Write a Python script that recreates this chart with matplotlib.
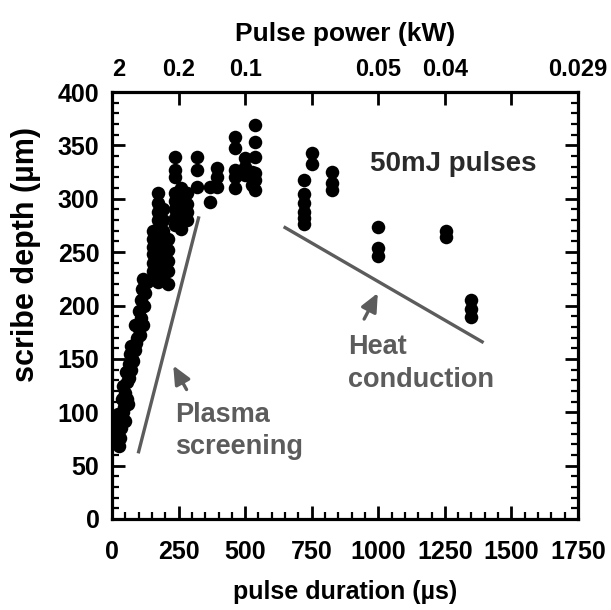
import numpy as np
import matplotlib
matplotlib.use("Agg")
import matplotlib.pyplot as plt

plt.rcParams['font.family'] = ['Liberation Sans', 'DejaVu Sans']
plt.rcParams['font.weight'] = 'bold'
plt.rcParams['axes.labelweight'] = 'bold'

# scribe data, 50 mJ pulses: pulse duration (us) vs scribe depth (um)
# rising part (short pulses)
dur_short = [12, 18, 25, 15, 30, 28, 35, 22, 10,
             40, 45, 50, 55, 48, 60, 42, 58, 52, 65, 38,
             62, 70, 75, 68, 80, 85, 72, 90,
             95, 100, 88, 105, 110, 115, 100, 120, 108, 125, 112, 130, 118,
             155, 155, 155, 155, 155, 155, 155,
             173, 173, 173, 173, 173, 173, 173, 173, 173, 173, 173, 173,
             192, 192, 192, 192, 192, 192, 192, 192,
             212, 212, 212, 212, 212,
             237, 237, 237, 237, 237, 237, 237, 237,
             260, 260, 260, 260, 260, 260,
             280, 280, 280, 280]
depth_short = [72, 80, 68, 88, 76, 92, 85, 98, 95,
               100, 105, 92, 112, 118, 108, 125, 128, 138, 132, 112,
               145, 140, 150, 155, 148, 158, 162, 165,
               170, 178, 182, 172, 188, 182, 195, 200, 205, 212, 215, 222, 225,
               270, 262, 255, 248, 240, 232, 225,
               305, 296, 288, 280, 272, 265, 258, 250, 242, 235, 228, 222,
               290, 280, 270, 258, 250, 240, 232, 224,
               262, 252, 242, 232, 220,
               339, 327, 320, 305, 298, 290, 282, 275,
               310, 300, 292, 285, 278, 272,
               305, 295, 288, 280]

# plateau (medium pulses)
dur_mid = [319, 319, 319, 368, 368, 394, 394, 394,
           462, 462, 462, 462, 462, 500, 500, 500, 526, 526,
           537, 537, 537, 537, 537, 537]
depth_mid = [339, 327, 311, 311, 297, 329, 320, 311,
             358, 348, 327, 320, 310, 338, 330, 322, 325, 313,
             369, 353, 339, 324, 318, 308]

# long pulses
dur_long = [720, 720, 720, 720, 720, 720, 750, 750, 825, 825, 825,
            1000, 1000, 1000, 1255, 1255, 1350, 1350, 1350]
depth_long = [318, 304, 296, 288, 282, 276, 343, 333, 325, 315, 308,
              274, 254, 246, 270, 264, 205, 197, 189]

# guide lines
plasma_x = [100, 325]
plasma_y = [63, 282]
heat_x = [650, 1390]
heat_y = [273, 166]

bottom_ticks = [0, 250, 500, 750, 1000, 1250, 1500, 1750]
power_pos = [25, 250, 500, 1000, 1250, 1750]
power_labels = ['2', '0.2', '0.1', '0.05', '0.04', '0.029']

fig = plt.figure(figsize=(6.11, 6.10), dpi=100)
ax = fig.add_axes([112 / 611, 91 / 610, 466 / 611, 427 / 610])

dur = dur_short + dur_mid + dur_long
depth = depth_short + depth_mid + depth_long
ax.scatter(dur, depth, s=95, color='black', zorder=3, linewidths=0)

grey = '#5c5c5c'
ax.plot(plasma_x, plasma_y, color=grey, lw=2.4)
ax.plot(heat_x, heat_y, color=grey, lw=2.4)

arrow = dict(arrowstyle='-|>,head_length=1.1,head_width=0.5', color=grey, lw=2.4)
ax.annotate('', xy=(225, 146), xytext=(285, 119), arrowprops=arrow)
ax.annotate('', xy=(1003, 214), xytext=(942, 185), arrowprops=arrow)

ax.text(238, 82, 'Plasma\nscreening', color=grey, fontsize=19.5,
        ha='left', va='center', linespacing=1.3)
ax.text(888, 146, 'Heat\nconduction', color=grey, fontsize=19.5,
        ha='left', va='center', linespacing=1.35)
ax.text(968, 333, '50mJ pulses', color='#2a2a2a', fontsize=20,
        ha='left', va='center')

ax.set_xlim(0, 1750)
ax.set_ylim(0, 400)
ax.set_xticks(bottom_ticks)
ax.set_xticks(np.arange(0, 1751, 50), minor=True)
ax.set_yticks(np.arange(0, 401, 50))
ax.set_yticks(np.arange(0, 401, 10), minor=True)
ax.tick_params(which='major', direction='in', length=9.5, width=2.0,
               labelsize=18, pad=9, top=False, right=True)
ax.tick_params(which='minor', direction='in', length=5, width=1.6,
               top=False, right=True)
ax.tick_params(axis='x', which='major', pad=15)
for sp in ax.spines.values():
    sp.set_linewidth(2.3)

ax.set_xlabel('pulse duration (\u00b5s)', fontsize=18, labelpad=12)
ax.set_ylabel('scribe depth (\u00b5m)', fontsize=22)
ax.yaxis.set_label_coords(-0.152, 0.62)

top = ax.twiny()
top.set_xlim(0, 1750)
top.xaxis.remove_overlapping_locs = False
top.set_xticks(bottom_ticks)
top.set_xticklabels([])
top.set_xticks(power_pos, minor=True)
top.set_xticklabels(power_labels, minor=True)
top.tick_params(which='major', direction='in', length=9.5, width=2.0)
top.tick_params(which='minor', length=0, labelsize=17, pad=8)
top.set_xlabel('Pulse power (kW)', fontsize=19, labelpad=12)

fig.savefig('out.png', dpi=100)
